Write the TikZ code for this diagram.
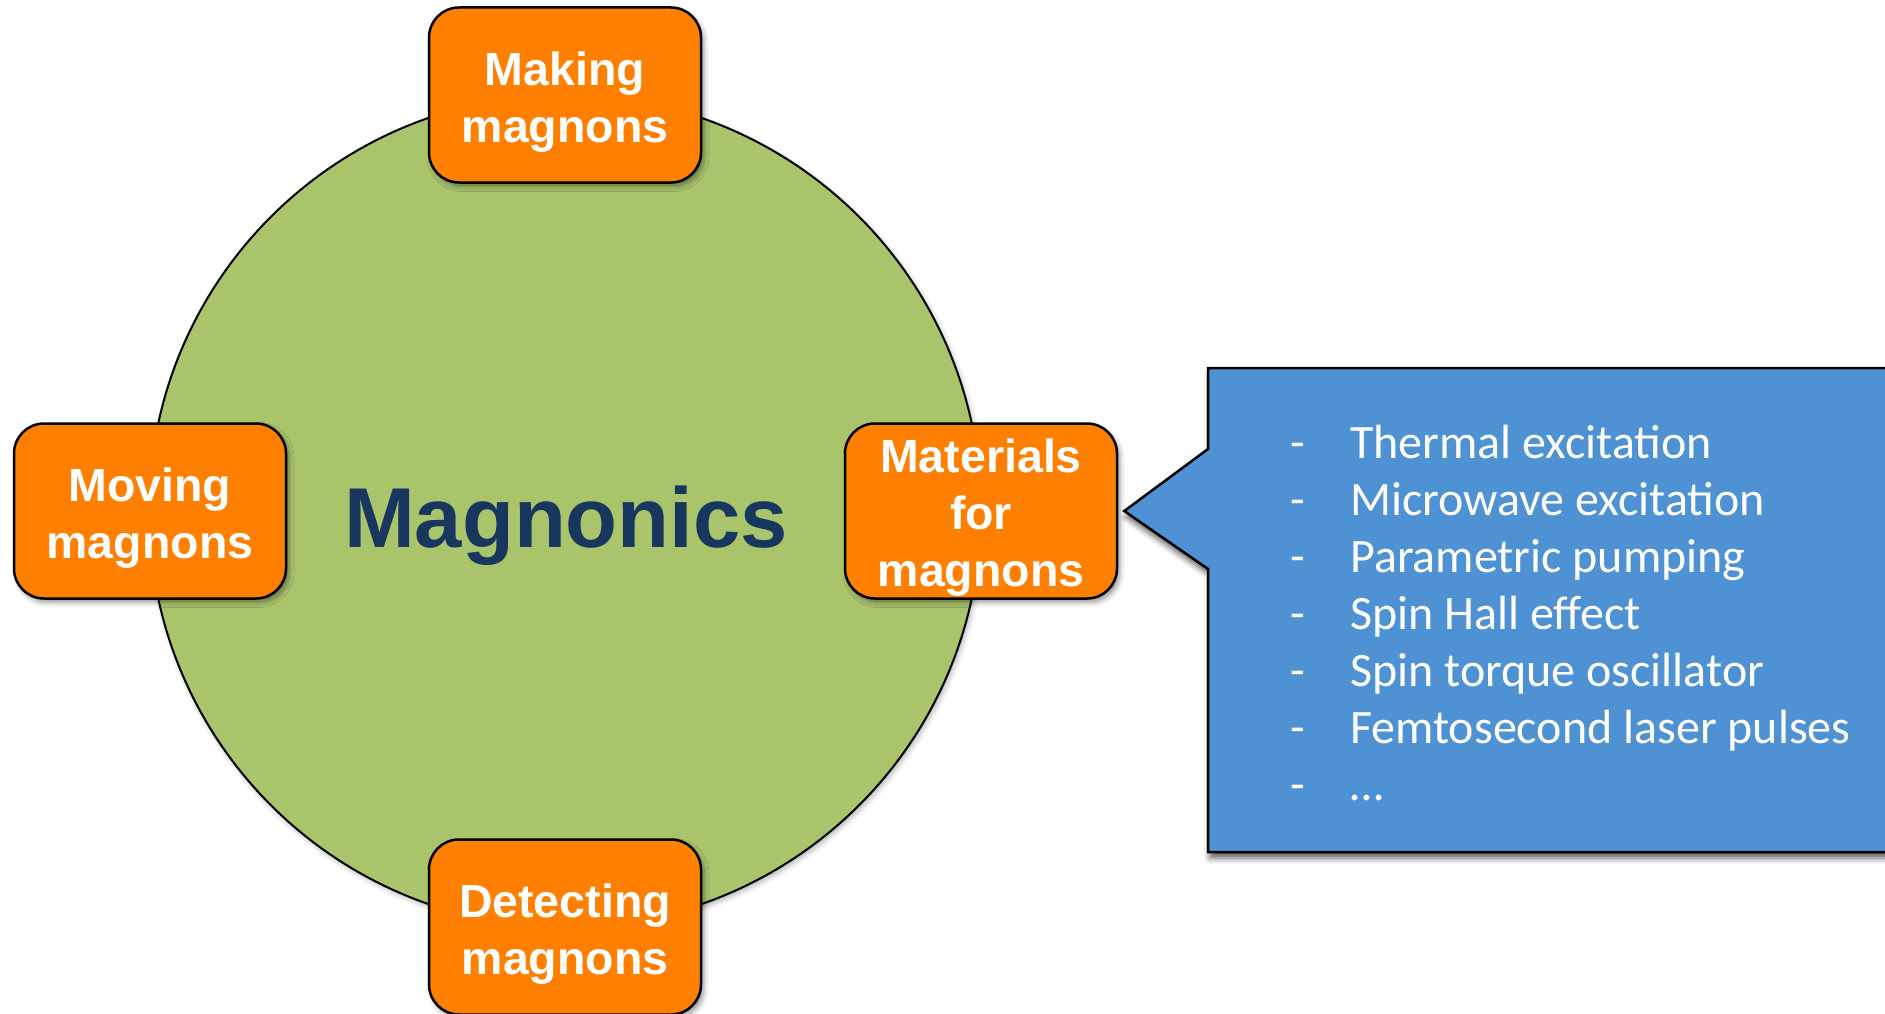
\documentclass[tikz,border=0pt]{standalone}
\usepackage{fontspec}
\setmainfont{Liberation Sans}
\newfontfamily\listfont{Carlito}
\usetikzlibrary{shadows.blur}

\definecolor{hubgreen}{RGB}{170,196,108}
\definecolor{topicorange}{RGB}{255,127,0}
\definecolor{titlenavy}{RGB}{23,55,94}
\definecolor{calloutblue}{RGB}{78,146,212}

\tikzset{
  hub/.style={circle, draw=black, line width=2pt, fill=hubgreen,
    minimum size=832pt, inner sep=0pt,
    blur shadow={shadow xshift=2pt, shadow yshift=-3pt,
      shadow blur radius=5pt, shadow opacity=30}},
  topic/.style={rectangle, rounded corners=30pt, draw=black, line width=2.5pt,
    fill=topicorange, minimum width=272pt, minimum height=175pt, inner sep=0pt,
    blur shadow={shadow xshift=3pt, shadow yshift=-4pt,
      shadow blur radius=5pt, shadow opacity=40}},
  topictext/.style={text=white, align=center, inner sep=0pt,
    font=\bfseries\fontsize{46.5}{57}\selectfont},
  titletext/.style={text=titlenavy, inner sep=0pt,
    font=\bfseries\fontsize{85}{100}\selectfont},
  callout/.style={draw=black, line width=2.5pt, fill=calloutblue,
    blur shadow={shadow xshift=2pt, shadow yshift=-6pt,
      shadow blur radius=6pt, shadow opacity=65}},
  itemtext/.style={text=white, inner sep=0pt, anchor=base west,
    font=\listfont\fontsize{48}{57}\selectfont},
}

\begin{document}
\begin{tikzpicture}[x=1pt, y=-1pt]
  \useasboundingbox (0,0) rectangle (1885,1014);

  % central disc
  \node[hub] (hub) at (565,511) {};
  \node[titletext, anchor=base] (title) at (566,547) {Magnonics};

  % four topics around the disc
  \node[topic] (make) at (565,95) {};
  \node[topic] (move) at (150,511) {};
  \node[topic] (mat)  at (981,511) {};
  \node[topic] (detect) at (565,927) {};

  \node[topictext] (maketxt) at ([yshift=-7pt]make.center) {Making\\magnons};
  \node[topictext] (movetxt) at ([yshift=-7pt]move.center) {Moving\\magnons};
  \node[topictext] (mattxt) at ([yshift=-7pt]mat.center) {Materials\\for\\magnons};
  \node[topictext] (detecttxt) at ([yshift=-7pt]detect.center) {Detecting\\magnons};

  % callout listing excitation methods
  \coordinate (tip) at ([xshift=6pt]mat.east);
  \draw[callout] (1208,368) -- (1900,368) -- (1900,852) -- (1208,852)
    -- (1208,569) -- (tip) -- (1208,449) -- cycle;

  \foreach \i/\y/\t in {1/458/Thermal excitation,
                        2/515/Microwave excitation,
                        3/572/Parametric pumping,
                        4/629/Spin Hall effect,
                        5/686/Spin torque oscillator,
                        6/743/Femtosecond laser pulses,
                        7/800/\dots}{
    \node[itemtext] (dash\i) at (1290,\y) {-};
    \node[itemtext] (item\i) at (1350,\y) {\t};
  }
\end{tikzpicture}
\end{document}
